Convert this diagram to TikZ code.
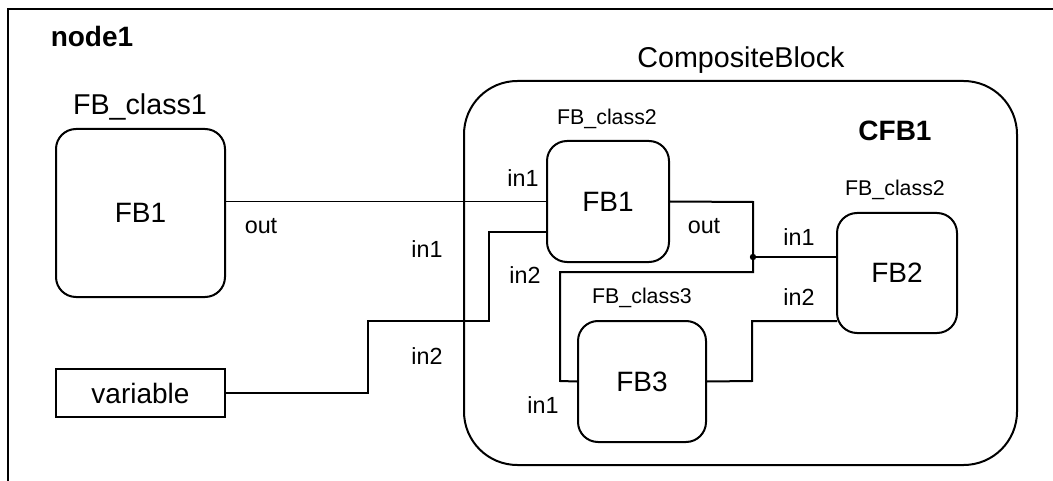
\documentclass[tikz,border=0pt]{standalone}
\usepackage{fontspec}
\setmainfont{Liberation Sans}
\begin{document}
\begin{tikzpicture}[x=0.75pt,y=-0.75pt,
  fbbox/.style={draw,line width=1.5pt,rounded corners=15pt,inner sep=0pt,font=\fontsize{21}{24}\selectfont},
  varbox/.style={draw,line width=1.5pt,inner sep=0pt,font=\fontsize{21}{24}\selectfont},
  compbox/.style={draw,line width=1.5pt,rounded corners=40pt,inner sep=0pt},
  wire/.style={line width=1.5pt},
  thinwire/.style={line width=0.9pt},
  portlbl/.style={inner sep=0pt,font=\fontsize{17.5}{20}\selectfont},
  classlbl/.style={inner sep=0pt,font=\fontsize{21.5}{24}\selectfont},
  smallclass/.style={inner sep=0pt,font=\fontsize{16}{19}\selectfont},
  titlelbl/.style={inner sep=0pt,font=\fontsize{21}{24}\selectfont\bfseries}
]
\useasboundingbox (0,0) rectangle (1053,481);
% outer frame (only top and left visible)
\coordinate (frTR) at (1053,9);
\coordinate (frTL) at (8,9);
\coordinate (frBL) at (8,481);
\draw[line width=1.5pt] (frTR) -- (frTL) -- (frBL);
\node[titlelbl] (node1lbl) at (92,36) {node1};

% composite block
\node[compbox,minimum width=414.75pt,minimum height=288pt] (comp) at (740.5,273) {};
\node[classlbl] (complbl) at (741,60) {CompositeBlock};
\node[titlelbl] (cfb1) at (895,131) {CFB1};

% blocks
\node[fbbox,minimum width=126.75pt,minimum height=126pt] (fba) at (140.5,213) {FB1};
\node[classlbl] (fbalbl) at (140,107) {FB\_class1};
\node[varbox,minimum width=126.75pt,minimum height=36pt] (var) at (140.5,393) {variable};

\node[fbbox,minimum width=91.5pt,minimum height=90.75pt] (fbb) at (608,201.5) {FB1};
\node[smallclass] (fbblbl) at (607,119) {FB\_class2};
\node[fbbox,minimum width=90pt,minimum height=90pt] (fbc) at (897,273) {FB2};
\node[smallclass] (fbclbl) at (895,190) {FB\_class2};
\node[fbbox,minimum width=96pt,minimum height=90.75pt] (fbd) at (642,381.5) {FB3};
\node[smallclass] (fbdlbl) at (642,298) {FB\_class3};

% wire bend points
\coordinate (v1) at (368,393);
\coordinate (v2) at (368,321);
\coordinate (v3) at (489,321);
\coordinate (v4) at (489,232);
\coordinate (b2in) at (547,232);
\coordinate (o1) at (753,202);
\coordinate (junc) at (753,257);
\coordinate (o2) at (753,272);
\coordinate (o3) at (560,272);
\coordinate (o4) at (560,381);
\coordinate (c1) at (837,257);
\coordinate (c2) at (837,321);
\coordinate (c3) at (752,321);
\coordinate (c4) at (752,381);

% wires
\draw[thinwire] (fba.east |- fbb.west) -- (fbb.west);
\draw[wire] (var.east) -- (v1) -- (v2) -- (v3) -- (v4) -- (b2in);
\draw[wire] (fbb.east) -- (o1) -- (o2) -- (o3) -- (o4) -- (fbd.west);
\draw[wire] (junc) -- (c1);
\fill (junc) circle (2.4pt);
\draw[wire] (c2) -- (c3) -- (c4) -- (fbd.east);

% port labels
\node[portlbl] (l1) at (261,226) {out};
\node[portlbl] (l2) at (427,249) {in1};
\node[portlbl] (l3) at (427,356) {in2};
\node[portlbl] (l4) at (523,178) {in1};
\node[portlbl] (l5) at (525,275) {in2};
\node[portlbl] (l6) at (704,226) {out};
\node[portlbl] (l7) at (799,237) {in1};
\node[portlbl] (l8) at (799,297) {in2};
\node[portlbl] (l9) at (543,405) {in1};
\end{tikzpicture}
\end{document}
